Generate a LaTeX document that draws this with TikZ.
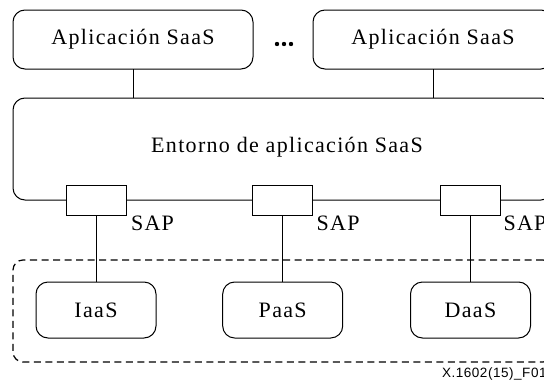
\documentclass[tikz,border=0pt]{standalone}
\usepackage{fontspec}
\setmainfont{Liberation Serif}[LetterSpace=6]
\newfontfamily\footfont{Liberation Sans}[LetterSpace=4]
\begin{document}
\begin{tikzpicture}[x=1pt,y=-1pt,
  line width=1pt,
  every node/.style={inner sep=0pt,outer sep=0pt},
  lbl/.style={font=\fontsize{22}{26}\selectfont},
  appbox/.style={draw,lbl,rounded corners=12pt,minimum width=240pt,minimum height=59pt},
  envbox/.style={draw,rounded corners=12pt,minimum width=540pt,minimum height=102pt},
  sapbox/.style={draw,fill=white,minimum width=60pt,minimum height=30pt},
  svcbox/.style={draw,lbl,rounded corners=12pt,minimum width=120pt,minimum height=56pt},
  grpbox/.style={draw,line width=1.2pt,dash pattern=on 7pt off 4.5pt,rounded corners=10pt,
    minimum width=540pt,minimum height=102pt},
  saplbl/.style={anchor=base west,lbl},
  dotmark/.style={circle,fill,minimum size=4.4pt}
]
\useasboundingbox (0,0) rectangle (544,383);

% top application boxes
\node[appbox] (app1) at (133,39.5) {Aplicación SaaS};
\node[appbox] (app2) at (433,39.5) {Aplicación SaaS};
\node[dotmark] (d1) at (277,44) {};
\node[dotmark] (d2) at (284,44) {};
\node[dotmark] (d3) at (291,44) {};

% environment box
\node[envbox] (env) at (283,149) {};
\node[anchor=base,lbl] (envtxt) at (287,152.5) {Entorno de aplicación SaaS};

\draw (app1.south) -- (app1.south |- env.north);
\draw (app2.south) -- (app2.south |- env.north);

% dashed group
\node[grpbox] (grp) at (283,311) {};

% service boxes
\node[svcbox] (iaas) at (96,310) {IaaS};
\node[svcbox] (paas) at (282.7,310) {PaaS};
\node[svcbox] (daas) at (470.5,310) {DaaS};

% SAP boxes
\node[sapbox] (sap1) at (96,200.8) {};
\node[sapbox] (sap2) at (282.7,200.8) {};
\node[sapbox] (sap3) at (470.5,200.8) {};

\draw (sap1.south) -- (iaas.north);
\draw (sap2.south) -- (paas.north);
\draw (sap3.south) -- (daas.north);

\node[saplbl] (l1) at ([xshift=5pt,yshift=-15pt]sap1.south east) {SAP};
\node[saplbl] (l2) at ([xshift=4pt,yshift=-15pt]sap2.south east) {SAP};
\node[saplbl] (l3) at ([xshift=3pt,yshift=-15pt]sap3.south east) {SAP};

% footer
\node[anchor=base west,font=\footfont\fontsize{13.5}{16}\selectfont] (foot) at (442,377.7) {X.1602(15)\_F01};
\end{tikzpicture}
\end{document}
